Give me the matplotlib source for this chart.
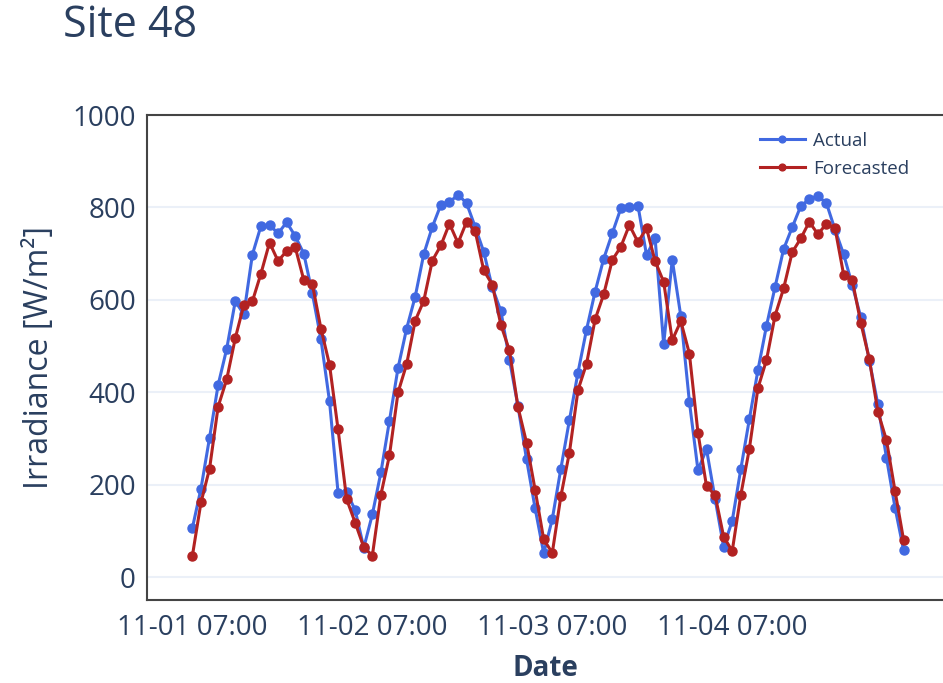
import matplotlib
matplotlib.use("Agg")
import matplotlib.pyplot as plt
import numpy as np

# half-hourly readings, 07:00-17:00 each day (night hours dropped from the axis)
days = ["11-01", "11-02", "11-03", "11-04"]
points_per_day = 21
tick_labels = [d + " 07:00" for d in days]

actual = [107, 192, 302, 416, 494, 597, 569, 698, 760, 762, 744, 768, 738, 700, 614, 515, 381, 183, 185, 145, 64,
          136, 227, 339, 453, 538, 607, 699, 758, 806, 811, 828, 809, 758, 704, 627, 576, 471, 370, 255, 149, 52,
          126, 235, 340, 443, 536, 618, 689, 744, 798, 800, 804, 697, 733, 504, 687, 565, 380, 232, 277, 170, 66,
          122, 234, 342, 448, 544, 628, 710, 757, 803, 818, 825, 809, 752, 699, 633, 563, 469, 374, 259, 151, 59]

forecasted = [47, 162, 235, 369, 428, 517, 589, 597, 657, 724, 684, 706, 714, 643, 634, 538, 460, 320, 169, 118, 65,
              47, 179, 264, 400, 461, 555, 598, 685, 718, 765, 723, 769, 749, 664, 633, 546, 491, 368, 291, 189, 82,
              53, 175, 270, 405, 462, 558, 612, 686, 715, 762, 725, 755, 684, 639, 513, 554, 484, 313, 197, 178, 88,
              57, 178, 278, 409, 470, 566, 625, 703, 733, 769, 742, 765, 755, 655, 644, 551, 472, 358, 297, 187, 81]

plt.rcParams['font.family'] = ['Open Sans', 'DejaVu Sans']
text_col = '#2a3f5f'

W, H = 943, 683
fig = plt.figure(figsize=(W / 100, H / 100), dpi=100)
ax = fig.add_axes([147 / W, (H - 600) / H, (943 - 147) / W, (600 - 115) / H])

x = np.arange(len(actual))
ax.plot(x, actual, color='#4169E1', lw=2.2, marker='o', ms=6.5, label='Actual', zorder=3)
ax.plot(x, forecasted, color='#B22222', lw=2.2, marker='o', ms=6.5, label='Forecasted', zorder=4)

ax.set_xlim(-5.3, 87.6)
ax.set_ylim(-49, 1000)
ax.set_yticks([0, 200, 400, 600, 800, 1000])
ax.set_xticks(np.arange(len(days)) * points_per_day)
ax.set_xticklabels(tick_labels)

ax.grid(axis='y', color='#EBF0F8', lw=1.5)
ax.set_axisbelow(True)
ax.tick_params(length=0, labelsize=20, labelcolor=text_col)
ax.tick_params(axis='y', pad=8)
ax.tick_params(axis='x', pad=10)

for s in ['left', 'top', 'bottom']:
    ax.spines[s].set_color('#444444')
    ax.spines[s].set_linewidth(1.5)
ax.spines['right'].set_visible(False)

ax.set_ylabel('Irradiance [W/m²]', fontsize=23, color=text_col, labelpad=12)
ax.set_xlabel('Date', fontsize=20, fontweight='bold', color=text_col, labelpad=9)

fig.text(63 / W, 1 - 26 / H, 'Site 48', fontsize=31, color=text_col, va='center', ha='left')

leg = ax.legend(loc='upper left', bbox_to_anchor=(752 / W, 1 - 124 / H), bbox_transform=fig.transFigure,
                frameon=False, fontsize=13.5, handlelength=2.4, handletextpad=0.45, labelspacing=0.55,
                markerscale=0.75, borderaxespad=0)
for t in leg.get_texts():
    t.set_color(text_col)

fig.savefig('out.png', dpi=100)
